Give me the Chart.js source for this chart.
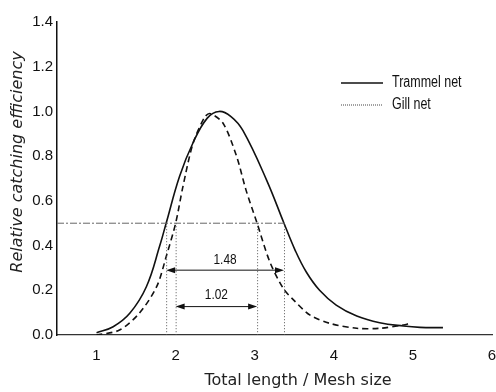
<!DOCTYPE html>
<html>
<head>
<meta charset="utf-8">
<script src="https://cdn.jsdelivr.net/npm/chart.js@4"></script>
<style>
  html, body { margin: 0; padding: 0; background: #fff; }
  #wrap { width: 496px; height: 392px; }
</style>
</head>
<body>
<div id="wrap"><canvas id="effChart" width="496" height="392"></canvas></div>
<script>
// values
const trammelX = [1.0, 1.21, 1.42, 1.63, 1.80, 1.88, 2.05, 2.22, 2.40, 2.55, 2.70, 2.85, 3.15, 3.37, 3.51, 3.65, 3.82, 4.03, 4.29, 4.58, 4.88, 5.09, 5.38];
const trammelY = [0.01, 0.037, 0.097, 0.216, 0.40, 0.50, 0.71, 0.86, 0.97, 1.0, 0.977, 0.915, 0.693, 0.50, 0.38, 0.283, 0.20, 0.134, 0.085, 0.055, 0.04, 0.034, 0.033];
const gillX = [1.0, 1.29, 1.54, 1.76, 1.88, 2.0, 2.09, 2.22, 2.37, 2.44, 2.60, 2.77, 2.89, 3.03, 3.19, 3.36, 3.49, 3.70, 3.95, 4.29, 4.58, 4.88, 4.96];
const gillY = [0.0, 0.022, 0.097, 0.216, 0.35, 0.5, 0.66, 0.857, 0.976, 0.99, 0.947, 0.80, 0.648, 0.5, 0.328, 0.209, 0.157, 0.089, 0.052, 0.03, 0.03, 0.045, 0.052];
const xTicks = [1, 2, 3, 4, 5, 6];
const yTicks = [0, 0.2, 0.4, 0.6, 0.8, 1.0, 1.2, 1.4];
const halfLevel = 0.5;
const trammelCross = [1.88, 3.37];
const gillCross = [2.0, 3.03];
const widthLabels = ['1.48', '1.02'];
const arrowLevels = [0.29, 0.127];
const labelLevels = [0.335, 0.18];
const seriesNames = ['Trammel net', 'Gill net'];
const xTitle = 'Total length / Mesh size';
const yTitle = 'Relative catching efficiency';

const toPoints = (xs, ys) => xs.map((x, i) => ({ x: x, y: ys[i] }));

const overlayPlugin = {
    id: 'overlay',
    afterDatasetsDraw: (chart) => {
        const { ctx } = chart;
        const xs = chart.scales.x, ys = chart.scales.y;
        const px = v => xs.getPixelForValue(v);
        const py = v => ys.getPixelForValue(v);

        ctx.save();
        // 0.5 reference line
        ctx.strokeStyle = '#666';
        ctx.lineWidth = 1;
        ctx.setLineDash([7, 2, 2, 2]);
        ctx.beginPath();
        ctx.moveTo(px(0.5), py(halfLevel));
        ctx.lineTo(px(trammelCross[1]), py(halfLevel));
        ctx.stroke();

        // vertical drop lines
        ctx.setLineDash([1, 2]);
        ctx.strokeStyle = '#555';
        trammelCross.concat(gillCross).forEach(v => {
            ctx.beginPath();
            ctx.moveTo(px(v) + 0.5, py(halfLevel));
            ctx.lineTo(px(v) + 0.5, py(0));
            ctx.stroke();
        });
        ctx.setLineDash([]);

        // double arrows
        const ranges = [trammelCross, gillCross];
        ctx.strokeStyle = '#111';
        ctx.fillStyle = '#111';
        ranges.forEach((r, i) => {
            const x1 = px(r[0]), x2 = px(r[1]), y = py(arrowLevels[i]);
            ctx.lineWidth = 1;
            ctx.beginPath();
            ctx.moveTo(x1 + 6, y);
            ctx.lineTo(x2 - 6, y);
            ctx.stroke();
            ctx.beginPath();
            ctx.moveTo(x1, y); ctx.lineTo(x1 + 9, y - 3); ctx.lineTo(x1 + 9, y + 3); ctx.closePath();
            ctx.fill();
            ctx.beginPath();
            ctx.moveTo(x2, y); ctx.lineTo(x2 - 9, y - 3); ctx.lineTo(x2 - 9, y + 3); ctx.closePath();
            ctx.fill();

            const cx = (x1 + x2) / 2;
            ctx.save();
            ctx.translate(cx, py(labelLevels[i]));
            ctx.scale(0.85, 1);
            ctx.font = '14px "Liberation Sans", Arial, sans-serif';
            ctx.textAlign = 'center';
            ctx.textBaseline = 'middle';
            ctx.fillText(widthLabels[i], 0, 0);
            ctx.restore();
        });

        // legend
        const lx = 341, lw = 42, ly = [83, 105];
        ctx.lineWidth = 1.6;
        ctx.strokeStyle = '#111';
        ctx.beginPath(); ctx.moveTo(lx, ly[0]); ctx.lineTo(lx + lw, ly[0]); ctx.stroke();
        ctx.lineWidth = 1;
        ctx.strokeStyle = '#444';
        ctx.setLineDash([1, 1]);
        ctx.beginPath(); ctx.moveTo(lx, ly[1]); ctx.lineTo(lx + lw, ly[1]); ctx.stroke();
        ctx.setLineDash([]);
        ctx.fillStyle = '#111';
        ctx.font = '16px "Liberation Sans", Arial, sans-serif';
        ctx.textAlign = 'left';
        ctx.textBaseline = 'middle';
        seriesNames.forEach((name, i) => {
            ctx.save();
            ctx.translate(lx + lw + 9, ly[i]);
            ctx.scale(0.78, 1);
            ctx.fillText(name, 0, 0);
            ctx.restore();
        });

        // axis titles (placed off-centre like the original)
        ctx.fillStyle = '#222';
        ctx.textAlign = 'center';
        ctx.textBaseline = 'middle';
        ctx.font = '16px "DejaVu Sans", sans-serif';
        ctx.fillText(xTitle, 298, 381);
        ctx.save();
        ctx.translate(18, 162);
        ctx.rotate(-Math.PI / 2);
        ctx.font = 'italic 16px "DejaVu Sans", sans-serif';
        ctx.fillText(yTitle, 0, 0);
        ctx.restore();
        ctx.restore();
    }
};

new Chart(document.getElementById('effChart'), {
    type: 'line',
    plugins: [overlayPlugin],
    data: {
        datasets: [{
            label: seriesNames[0],
            data: toPoints(trammelX, trammelY),
            borderColor: '#111',
            borderWidth: 1.6,
            pointRadius: 0,
            tension: 0.4,
            fill: false
        }, {
            label: seriesNames[1],
            data: toPoints(gillX, gillY),
            borderColor: '#111',
            borderWidth: 1.6,
            borderDash: [6, 4],
            pointRadius: 0,
            tension: 0.3,
            fill: false
        }]
    },
    options: {
        responsive: false,
        animation: false,
        layout: {
            padding: { top: 22, right: 4, left: 0, bottom: 0 }
        },
        plugins: {
            legend: { display: false },
            tooltip: { enabled: false }
        },
        scales: {
            x: {
                type: 'linear',
                min: 0.5,
                max: 6,
                afterBuildTicks: (scale) => { scale.ticks = xTicks.map(v => ({ value: v })); },
                afterFit: (scale) => {
                    scale.height = 57;
                    scale.paddingLeft = 0;
                    scale.paddingRight = 0;
                },
                grid: { display: false, drawTicks: false },
                border: { display: true, color: '#333', width: 1.2 },
                ticks: {
                    padding: 12,
                    color: '#111',
                    font: { family: '"Liberation Sans", Arial, sans-serif', size: 15 },
                    maxRotation: 0
                }
            },
            y: {
                min: 0,
                max: 1.4,
                afterBuildTicks: (scale) => { scale.ticks = yTicks.map(v => ({ value: v })); },
                afterFit: (scale) => { scale.width = 57; },
                grid: { display: false, drawTicks: false },
                border: { display: true, color: '#111', width: 1.5 },
                ticks: {
                    padding: 4,
                    color: '#111',
                    font: { family: '"Liberation Sans", Arial, sans-serif', size: 15 },
                    callback: v => v.toFixed(1)
                }
            }
        }
    }
});
</script>
</body>
</html>
